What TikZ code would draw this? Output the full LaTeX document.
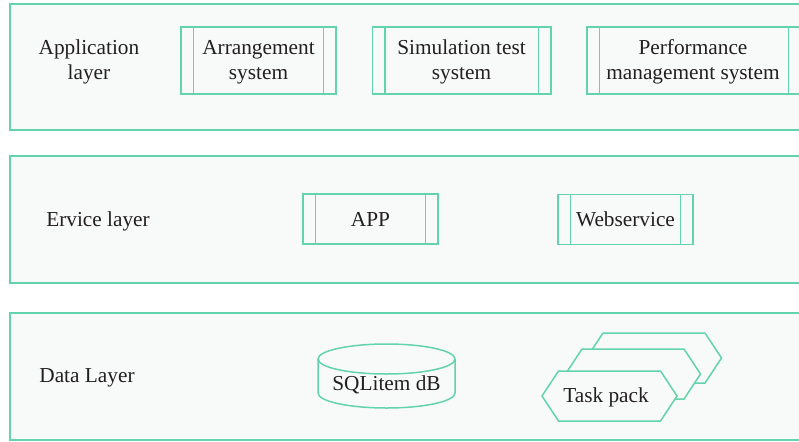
\documentclass[tikz,border=0pt]{standalone}
\usepackage{fontspec}
\setmainfont{Liberation Serif}
\definecolor{edge}{HTML}{62D3AA}
\definecolor{panel}{HTML}{F8FAFA}
\definecolor{ink}{HTML}{231F20}
\begin{document}
\begin{tikzpicture}[x=1pt,y=-1pt,
  line/.style={draw=edge,line width=1.5pt},
  layerbox/.style={line,fill=panel},
  txt/.style={text=ink,font=\fontsize{21.3}{25}\selectfont,align=center,inner sep=0pt},
  subbox/.style 2 args={line,fill=panel,minimum width=#1,minimum height=#2,inner sep=0pt,
    path picture={
      \draw[line] ([xshift=12.5pt]path picture bounding box.north west) -- ([xshift=12.5pt]path picture bounding box.south west);
      \draw[line] ([xshift=-12.5pt]path picture bounding box.north east) -- ([xshift=-12.5pt]path picture bounding box.south east);
    }},
]
\useasboundingbox (0,0) rectangle (799,441);
\clip (0,0) rectangle (799,441);
\fill[white] (0,0) rectangle (799,441);

% three layers, open to the right
\draw[layerbox] (10,4) rectangle (810,130);
\draw[layerbox] (10,156) rectangle (810,283);
\draw[layerbox] (10,313) rectangle (810,440);

\node[txt] (lapp) at (89,62) {Application\\layer};
\node[txt] (lsrv) at (98,221) {Ervice layer};
\node[txt] (ldat) at (87,378) {Data Layer};

% application layer modules
\node[subbox={155}{67}] (arr) at (258.5,60.5) {};
\node[subbox={178.5}{67}] (sim) at (461.5,60.5) {};
\node[subbox={214}{67}] (perf) at (694,60.5) {};
\node[txt] (arrtxt) at ([yshift=-1.5]arr.center) {Arrangement\\system};
\node[txt] (simtxt) at ([yshift=-1.5]sim.center) {Simulation test\\system};
\node[txt] (perftxt) at ([yshift=-1.5,xshift=-1]perf.center) {Performance\\management system};

% service layer modules
\node[subbox={135}{50}] (appb) at (370.5,219) {};
\node[subbox={135}{50}] (web) at (625.5,219.5) {};
\node[txt] (apptxt) at (appb.center) {APP};
\node[txt] (webtxt) at (web.center) {Webservice};

% database cylinder
\draw[line,fill=panel] (318,359) -- (318,393)
  arc[start angle=180,end angle=0,x radius=68.5,y radius=15] -- (455,359)
  arc[start angle=0,end angle=-180,x radius=68.5,y radius=15] -- cycle;
\draw[line] (318,359) arc[start angle=180,end angle=0,x radius=68.5,y radius=15];
\node[txt] (db) at (386.5,385) {SQLitem dB};

% stacked task packs
\newcommand{\packshape}[2]{%
  \draw[line,fill=panel] (#1-67.5,#2) -- ++(16.5,-25) -- ++(102,0) -- ++(16.5,25)
    -- ++(-16.5,25) -- ++(-102,0) -- cycle;}
\packshape{654}{358}
\packshape{633}{374}
\packshape{609.5}{396}
\node[txt] (task) at (606,397) {Task pack};
\end{tikzpicture}
\end{document}
